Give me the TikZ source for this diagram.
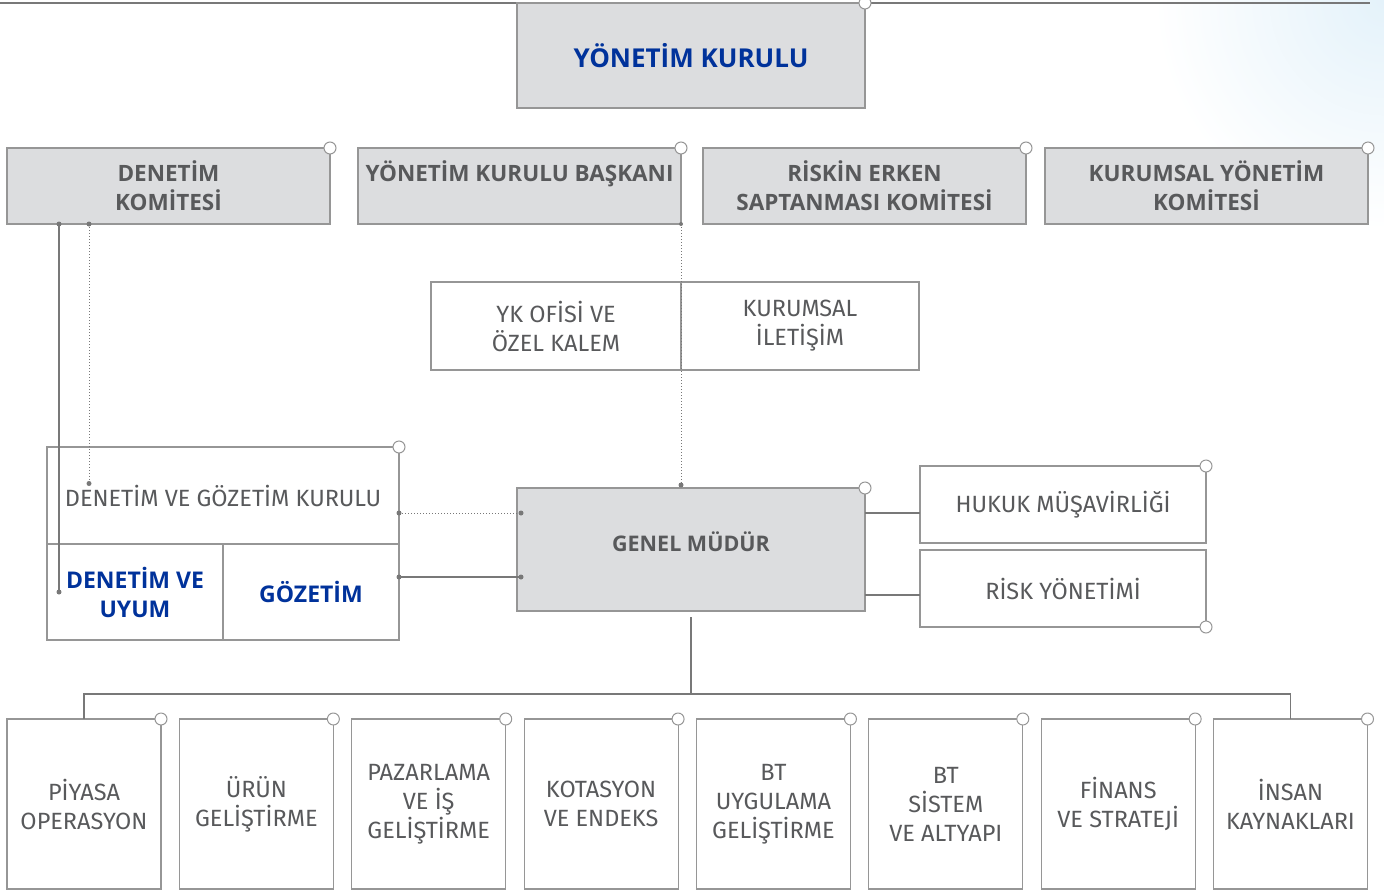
\documentclass[tikz,border=0pt]{standalone}
\usepackage{fontspec}
\setmainfont{Fira Sans}
\newfontfamily\headfont{Open Sans}
\usepackage{tikz}
\usetikzlibrary{positioning}

\definecolor{boxgray}{RGB}{220,221,223}
\definecolor{framegray}{RGB}{150,150,150}
\definecolor{linegray}{RGB}{120,120,120}
\definecolor{textgray}{RGB}{88,89,91}
\definecolor{headblue}{RGB}{0,50,155}
\definecolor{haze}{RGB}{228,242,250}

\begin{document}
\begin{tikzpicture}[x=1pt, y=-1pt,
  graybox/.style = {draw=framegray, fill=boxgray, line width=1.1pt, outer sep=0pt, align=center,
    text=textgray, font=\headfont\bfseries\fontsize{22.5}{29}\selectfont},
  whitebox/.style = {draw=framegray, fill=white, line width=1.1pt, outer sep=0pt, align=center,
    text=textgray, font=\fontsize{23.5}{29}\selectfont},
  bluetext/.style = {text=headblue, font=\headfont\bfseries\fontsize{23}{29}\selectfont},
  link/.style = {draw=linegray, line width=1.1pt},
  dotlink/.style = {draw=linegray, line width=1pt, dotted},
  knob/.style = {draw=framegray, fill=white, line width=1pt},
  joint/.style = {fill=linegray}]
\useasboundingbox (0,0) rectangle (1384,892);
\clip (0,0) rectangle (1384,892);
\shade[inner color=haze, outer color=white] (1384,0) circle (230pt);

\coordinate (topleft) at (0,3);
\coordinate (topright) at (1370,3);
\draw[link] (topleft) -- (topright);

\node[graybox, minimum width=348pt, minimum height=105pt, text=headblue,
      font=\headfont\bfseries\fontsize{26}{29}\selectfont] (yk) at (691,55.5) {YÖNETİM KURULU};

\node[graybox, minimum width=323pt, minimum height=76pt] (denkom) at (168.5,186) {DENETİM\\KOMİTESİ};
\node[graybox, minimum width=323pt, minimum height=76pt] (ykb) at (519.5,186) {YÖNETİM KURULU BAŞKANI\\~};
\node[graybox, minimum width=323pt, minimum height=76pt] (riskkom) at (864.5,186) {RİSKİN ERKEN\\SAPTANMASI KOMİTESİ};
\node[graybox, minimum width=323pt, minimum height=76pt] (kyk) at (1206.5,186) {KURUMSAL YÖNETİM\\KOMİTESİ};

\node[whitebox, minimum width=250pt, minimum height=88pt] (ofis) at (556,326) {YK OFİSİ VE\\ÖZEL KALEM};
\node[whitebox, minimum width=238pt, minimum height=88pt] (iletisim) at (800,326) {KURUMSAL\\İLETİŞİM};

\node[graybox, minimum width=348pt, minimum height=123pt,
      label={[yshift=8pt, text=textgray, font=\headfont\bfseries\fontsize{21.5}{29}\selectfont]center:GENEL MÜDÜR}] (gm) at (691,549.5) {};

\node[whitebox, minimum width=352pt, minimum height=97pt] (dgk) at (223,495.5) {DENETİM VE GÖZETİM KURULU};
\node[whitebox, bluetext, minimum width=176pt, minimum height=96pt] (uyum) at (135,592) {DENETİM VE\\UYUM};
\node[whitebox, bluetext, minimum width=176pt, minimum height=96pt] (gozetim) at (311,592) {GÖZETİM};

\node[whitebox, minimum width=286pt, minimum height=77pt] (hukuk) at (1063,504.5) {HUKUK MÜŞAVİRLİĞİ};
\node[whitebox, minimum width=286pt, minimum height=77pt] (riskyon) at (1063,588.5) {RİSK YÖNETİMİ};

\foreach \i/\txt in {0/{PİYASA\\OPERASYON}, 1/{ÜRÜN\\GELİŞTİRME}, 2/{PAZARLAMA\\VE İŞ\\GELİŞTİRME},
    3/{KOTASYON\\VE ENDEKS}, 4/{BT\\UYGULAMA\\GELİŞTİRME}, 5/{BT\\SİSTEM\\VE ALTYAPI},
    6/{FİNANS\\VE STRATEJİ}, 7/{İNSAN\\KAYNAKLARI}}
  \node[whitebox, minimum width=154pt, minimum height=170pt] (b\i) at ({84+172.36*\i},804) {\txt};

\coordinate (s1) at ([xshift=52pt]denkom.south west);
\coordinate (s2) at ([xshift=82pt]denkom.south west);
\draw[link] (s1) -- (s1 |- uyum.west);
\fill[joint] (s1) circle (2.5) (s1 |- uyum.west) circle (2.5);
\draw[dotlink] (s2) -- ([yshift=12pt]s2 |- dgk.west);
\fill[joint] (s2) circle (2.5) ([yshift=12pt]s2 |- dgk.west) circle (2.5);

\draw[dotlink] (ykb.south east) -- ([yshift=3pt]ykb.south east |- gm.north);
\fill[joint] (ykb.south east) circle (2) ([yshift=3pt]ykb.south east |- gm.north) circle (2.5);

\draw[dotlink] ([yshift=-17.5pt]dgk.east) -- ([yshift=-17.5pt,xshift=4pt]dgk.east -| gm.west);
\fill[joint] ([yshift=-17.5pt]dgk.east) circle (2.5) ([yshift=-17.5pt,xshift=4pt]dgk.east -| gm.west) circle (2.5);
\draw[link] ([yshift=15pt]gozetim.east) -- ([yshift=15pt,xshift=4pt]gozetim.east -| gm.west);
\fill[joint] ([yshift=15pt]gozetim.east) circle (2.5) ([yshift=15pt,xshift=4pt]gozetim.east -| gm.west) circle (2.5);

\draw[link] ([yshift=-8.5pt]hukuk.west -| gm.east) -- ([yshift=-8.5pt]hukuk.west);
\draw[link] ([yshift=-6.5pt]riskyon.west -| gm.east) -- ([yshift=-6.5pt]riskyon.west);

\draw[link] ([yshift=-6pt]gm.south) -- ([yshift=25pt]b0.north -| gm.south);
\draw[link] (b0.north) -- ++(0,-25) -| (b7.north);

\foreach \n in {yk, denkom, ykb, riskkom, kyk, gm, dgk, hukuk, b0, b1, b2, b3, b4, b5, b6, b7}
  \filldraw[knob] (\n.north east) circle (6);
\filldraw[knob] (riskyon.south east) circle (6);
\end{tikzpicture}
\end{document}
